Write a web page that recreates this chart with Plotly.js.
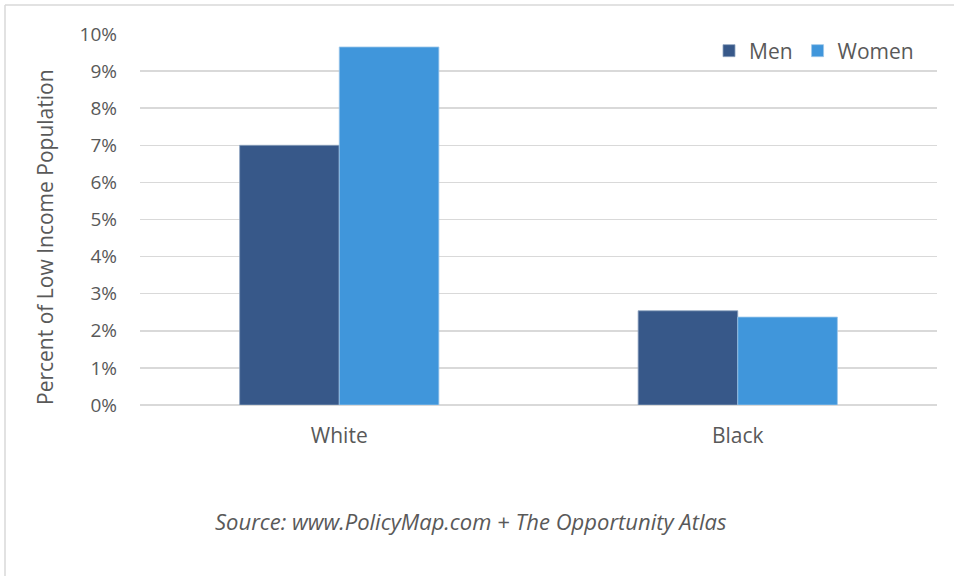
<!DOCTYPE html>
<html>
<head>
<meta charset="utf-8">
<script src="https://cdn.plot.ly/plotly-3.0.1.min.js"></script>
<style>
html,body{margin:0;padding:0;background:#fff;}
#chart{width:954px;height:576px;}
</style>
</head>
<body>
<div id="chart"></div>
<script>
const categories = ["White", "Black"];
const menValues = [0.0700, 0.0254];
const womenValues = [0.0965, 0.0237];
const seriesNames = ["Men", "Women"];
const tickValues = [0, 0.01, 0.02, 0.03, 0.04, 0.05, 0.06, 0.07, 0.08, 0.09, 0.10];
const tickLabels = ["0%", "1%", "2%", "3%", "4%", "5%", "6%", "7%", "8%", "9%", "10%"];
const yTitle = "Percent of Low Income Population";
const sourceText = "Source: www.PolicyMap.com + The Opportunity Atlas";

const W = 954, H = 576, L = 140, R = 17, T = 34, B = 171;
const pw = W - L - R, ph = H - T - B;
const px = x => (x - L) / pw;
const py = y => (H - B - y) / ph;

const traces = [
  {type: "bar", name: seriesNames[0], x: categories, y: menValues,
   marker: {color: "#375889", line: {color: "#8ea3bf", width: 0.8}}, hoverinfo: "none"},
  {type: "bar", name: seriesNames[1], x: categories, y: womenValues,
   marker: {color: "#4096db", line: {color: "#9cc6ea", width: 0.8}}, hoverinfo: "none"}
];

const layout = {
  width: W, height: H,
  margin: {l: L, r: R, t: T, b: B, pad: 0},
  paper_bgcolor: "#fff", plot_bgcolor: "#fff",
  font: {family: "'Open Sans', sans-serif", color: "#595959", size: 16},
  barmode: "group", bargap: 0.5, bargroupgap: 0,
  showlegend: true,
  legend: {orientation: "h", x: px(919), xanchor: "right", y: py(51), yanchor: "middle",
           font: {size: 21, color: "#595959"}, bgcolor: "rgba(0,0,0,0)",
           traceorder: "normal", itemclick: false},
  xaxis: {showgrid: false, zeroline: false, showline: false, ticks: "",
          tickfont: {size: 21, color: "#595959"}, ticklabelstandoff: 16, fixedrange: true},
  yaxis: {range: [0, 0.10], tickvals: tickValues, ticktext: tickLabels,
          showgrid: true, gridcolor: "#d9d9d9", gridwidth: 1.5,
          zeroline: true, zerolinecolor: "#d9d9d9", zerolinewidth: 1.5,
          showline: false, ticks: "", ticklabelstandoff: 22,
          tickfont: {size: 19, color: "#595959"}, fixedrange: true},
  shapes: [
    {type: "line", xref: "paper", yref: "paper", x0: px(5), x1: px(954), y0: py(5), y1: py(5),
     line: {color: "#d9d9d9", width: 1.5}},
    {type: "line", xref: "paper", yref: "paper", x0: px(5), x1: px(5), y0: py(5), y1: py(576),
     line: {color: "#d9d9d9", width: 1.5}}
  ],
  annotations: [
    {text: yTitle, xref: "paper", yref: "paper", x: px(45), y: py(237),
     xanchor: "center", yanchor: "middle", textangle: -90, showarrow: false,
     font: {size: 21, color: "#595959"}},
    {text: sourceText, xref: "paper", yref: "paper", x: px(471), y: py(521),
     xanchor: "center", yanchor: "middle", showarrow: false,
     font: {size: 22, color: "#595959", style: "italic"}}
  ]
};

Plotly.newPlot("chart", traces, layout, {displayModeBar: false, staticPlot: true});
</script>
</body>
</html>
